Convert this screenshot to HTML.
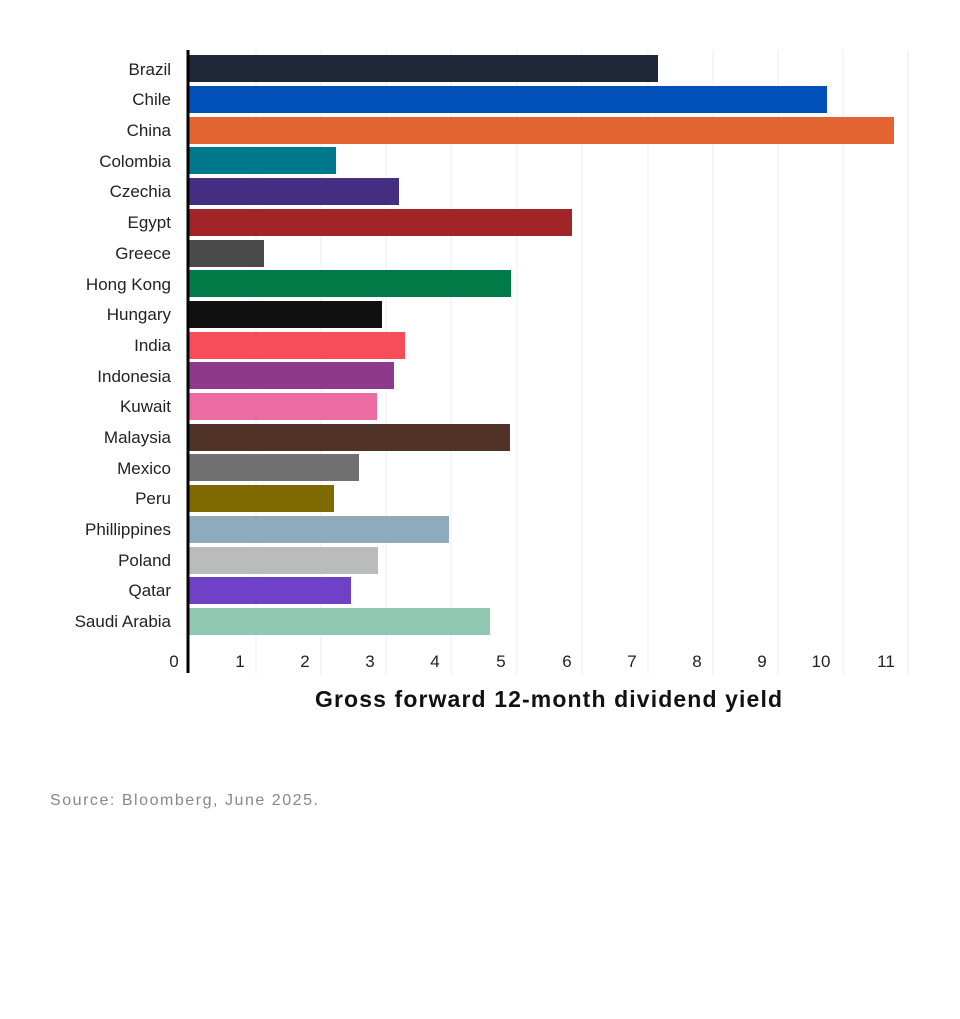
<!DOCTYPE html>
<html><head><meta charset="utf-8"><style>
body{margin:0;background:#fff;width:960px;height:1014px;overflow:hidden;font-family:"Liberation Sans",sans-serif}
</style></head><body>
<svg width="960" height="1014" xmlns="http://www.w3.org/2000/svg" font-family="Liberation Sans, sans-serif">
<g stroke="#ececec" stroke-width="1">
<line x1="256" y1="50" x2="256" y2="675"/><line x1="321" y1="50" x2="321" y2="675"/><line x1="386" y1="50" x2="386" y2="675"/><line x1="451" y1="50" x2="451" y2="675"/><line x1="517" y1="50" x2="517" y2="675"/><line x1="582" y1="50" x2="582" y2="675"/><line x1="648" y1="50" x2="648" y2="675"/><line x1="713" y1="50" x2="713" y2="675"/><line x1="778" y1="50" x2="778" y2="675"/><line x1="843" y1="50" x2="843" y2="675"/><line x1="908" y1="50" x2="908" y2="675"/>
</g>
<g>
<rect x="188" y="55" width="470" height="27" fill="#1e2838"/>
<rect x="188" y="86" width="639" height="27" fill="#0050b8"/>
<rect x="188" y="117" width="706" height="27" fill="#e26430"/>
<rect x="188" y="147" width="148" height="27" fill="#00788c"/>
<rect x="188" y="178" width="211" height="27" fill="#452d82"/>
<rect x="188" y="209" width="384" height="27" fill="#a02428"/>
<rect x="188" y="240" width="76" height="27" fill="#4a4a4a"/>
<rect x="188" y="270" width="323" height="27" fill="#007a46"/>
<rect x="188" y="301" width="194" height="27" fill="#111111"/>
<rect x="188" y="332" width="217" height="27" fill="#f64d58"/>
<rect x="188" y="362" width="206" height="27" fill="#8d3a8c"/>
<rect x="188" y="393" width="189" height="27" fill="#ec6ba0"/>
<rect x="188" y="424" width="322" height="27" fill="#503226"/>
<rect x="188" y="454" width="171" height="27" fill="#717171"/>
<rect x="188" y="485" width="146" height="27" fill="#7e6a00"/>
<rect x="188" y="516" width="261" height="27" fill="#8eabbe"/>
<rect x="188" y="547" width="190" height="27" fill="#b9bbbc"/>
<rect x="188" y="577" width="163" height="27" fill="#7040c6"/>
<rect x="188" y="608" width="302" height="27" fill="#8ec8b0"/>
</g>
<line x1="188" y1="50" x2="188" y2="673" stroke="#000" stroke-width="3"/>
<g font-size="17" fill="#222" text-anchor="end">
<text x="171" y="75">Brazil</text><text x="171" y="105">Chile</text><text x="171" y="136">China</text><text x="171" y="167">Colombia</text><text x="171" y="197">Czechia</text><text x="171" y="228">Egypt</text><text x="171" y="259">Greece</text><text x="171" y="290">Hong Kong</text><text x="171" y="320">Hungary</text><text x="171" y="351">India</text><text x="171" y="382">Indonesia</text><text x="171" y="412">Kuwait</text><text x="171" y="443">Malaysia</text><text x="171" y="474">Mexico</text><text x="171" y="504">Peru</text><text x="171" y="535">Phillippines</text><text x="171" y="566">Poland</text><text x="171" y="596">Qatar</text><text x="171" y="627">Saudi Arabia</text>
</g>
<g font-size="17" fill="#222" text-anchor="middle">
<text x="174" y="667">0</text><text x="240" y="667">1</text><text x="305" y="667">2</text><text x="370" y="667">3</text><text x="435" y="667">4</text><text x="501" y="667">5</text><text x="567" y="667">6</text><text x="632" y="667">7</text><text x="697" y="667">8</text><text x="762" y="667">9</text><text x="821" y="667">10</text><text x="886" y="667">11</text>
</g>
<text x="315" y="707" font-size="23" font-weight="bold" fill="#111" textLength="467" lengthAdjust="spacing">Gross forward 12-month dividend yield</text>
<text x="50" y="805" font-size="16" fill="#888" textLength="268" lengthAdjust="spacing">Source: Bloomberg, June 2025.</text>
</svg>
</body></html>
